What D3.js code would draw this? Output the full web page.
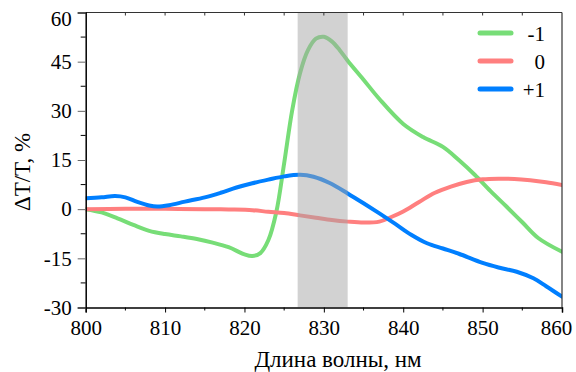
<!DOCTYPE html>
<html><head><meta charset="utf-8">
<script src="https://cdn.jsdelivr.net/npm/d3@7"></script>
</head><body style="margin:0">
<svg id="c" width="576" height="372"></svg>
<script>
const xTicks = [800, 810, 820, 830, 840, 850, 860];
const yTicks = [-30, -15, 0, 15, 30, 45, 60];
const bandRange = [826.7, 833.0];
const seriesNames = ["-1", "0", "+1"];
const seriesColors = ["#77dd77", "#ff7f7f", "#007fff"];

const wlMinus = [800,802,804,806,808,810,812,814,816,818,820,821,822,823,824,825,826,827,828,829,830,831,832,833,835,837,840,842.5,845,847,849,851,853,855,857,860];
const valMinus = [0,-1.0,-2.8,-4.8,-6.6,-7.6,-8.3,-9.1,-10.2,-11.6,-13.8,-14.3,-13.4,-9.5,-1,14,30,41.5,48.5,52,52.6,51.2,48.5,45.3,39.5,33.6,26,22,19,15,10.5,5.5,0.8,-4,-8.8,-13];

const wlZero = [800,805,810,815,818,821,823,825,827,829,831,833,835,837,838.5,840,842,844,846,848,850,852,854,856,858,860];
const valZero = [0,0.1,0.1,0,-0.1,-0.3,-0.8,-1.2,-1.9,-2.6,-3.3,-3.8,-4.1,-3.8,-2.4,-0.7,2.2,5.0,6.9,8.3,9.1,9.3,9.2,8.8,8.2,7.4];

const wlPlus = [800,802,803.7,805,806.5,808,809,810.5,812.5,815,817,819,821,823,825,827,828.7,830.8,833,835,837,839,841,843,845,847,850,852,854.3,856.4,858,860];
const valPlus = [3.3,3.6,4.0,3.6,2.2,1.1,0.8,1.2,2.3,3.6,5.0,6.6,7.9,9.0,10.0,10.5,9.9,7.9,4.8,1.8,-1.3,-4.5,-7.8,-10.4,-12.0,-13.6,-16.4,-17.8,-19.1,-21.1,-23.5,-26.7];

const series = [
  {name: seriesNames[0], color: seriesColors[0], x: wlMinus, y: valMinus},
  {name: seriesNames[1], color: seriesColors[1], x: wlZero, y: valZero},
  {name: seriesNames[2], color: seriesColors[2], x: wlPlus, y: valPlus}
];

const L = 85.7, R = 562, T = 12.5, B = 307.5;
const svg = d3.select("#c");
const x = d3.scaleLinear().domain([800, 860]).range([L, R]);
const y = d3.scaleLinear().domain([-30, 60]).range([B, T]);
const fmt = d => String(d);
function serif(sel) { return sel.style("font-family", '"Liberation Serif"'); }

const line = d3.line().x(d => x(d[0])).y(d => y(d[1])).curve(d3.curveCatmullRom.alpha(0.5));
svg.append("defs").append("clipPath").attr("id", "clip")
  .append("rect").attr("x", L).attr("y", T).attr("width", R - L).attr("height", B - T);
const g = svg.append("g").attr("clip-path", "url(#clip)");
series.forEach(s => {
  g.append("path").datum(s.x.map((v, i) => [v, s.y[i]]))
    .attr("d", line).attr("fill", "none").attr("stroke", s.color)
    .attr("stroke-width", 4).attr("stroke-linecap", "round");
});
g.append("rect").attr("x", x(bandRange[0])).attr("y", T)
  .attr("width", x(bandRange[1]) - x(bandRange[0])).attr("height", B - T)
  .attr("fill", "#a6a6a6").attr("opacity", 0.5);

svg.append("line").attr("x1", L).attr("x2", R).attr("y1", T).attr("y2", T).attr("stroke", "#333").attr("stroke-width", 1.2);
svg.append("line").attr("x1", R).attr("x2", R).attr("y1", T).attr("y2", B).attr("stroke", "#333").attr("stroke-width", 1.2);

const xa = svg.append("g").attr("transform", `translate(0,${B})`);
xa.call(d3.axisBottom(x).tickValues(xTicks).tickSize(5).tickPadding(8).tickFormat(fmt));
xa.select(".domain").attr("stroke", "#000").attr("stroke-width", 1.5);
serif(xa.selectAll("text")).attr("font-size", 21).attr("fill", "#000")
  .attr("dx", d => d === 860 ? -6 : 0);
d3.range(805, 860, 10).forEach(v => xa.append("line").attr("x1", x(v)).attr("x2", x(v)).attr("y1", 0).attr("y2", 3).attr("stroke", "#000"));
d3.range(805, 860, 5).forEach(v => svg.append("line").attr("x1", x(v)).attr("x2", x(v)).attr("y1", T).attr("y2", T + 3).attr("stroke", "#333"));

const ya = svg.append("g").attr("transform", `translate(${L},0)`);
ya.call(d3.axisLeft(y).tickValues(yTicks).tickSize(8).tickPadding(6).tickFormat(fmt));
ya.select(".domain").attr("stroke", "#000").attr("stroke-width", 1.5);
ya.selectAll(".tick line").attr("stroke", "#666");
serif(ya.selectAll("text")).attr("font-size", 21).attr("fill", "#000")
  .attr("y", d => d === 60 ? 6 : 0);
d3.range(-22.5, 60, 15).forEach(v => ya.append("line").attr("x1", -5).attr("x2", 0).attr("y1", y(v)).attr("y2", y(v)).attr("stroke", "#000"));

serif(svg.append("text")).attr("x", 338).attr("y", 367).attr("text-anchor", "middle").attr("font-size", 23).text("Длина волны, нм");
serif(svg.append("text")).attr("transform", "translate(30,172) rotate(-90)").attr("text-anchor", "middle").attr("font-size", 23).text("ΔT/T, %");

series.forEach((s, i) => {
  const yy = 33 + i * 28;
  svg.append("line").attr("x1", 480).attr("x2", 511).attr("y1", yy).attr("y2", yy)
    .attr("stroke", s.color).attr("stroke-width", 5).attr("stroke-linecap", "round");
  serif(svg.append("text")).attr("x", 545).attr("y", yy + 8).attr("text-anchor", "end").attr("font-size", 21).text(s.name);
});
</script>
</body></html>
